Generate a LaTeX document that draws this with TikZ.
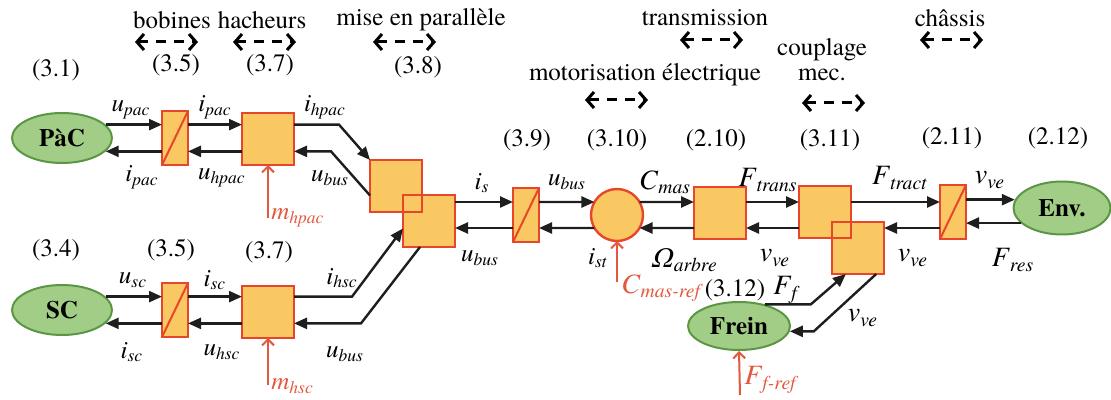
\documentclass[tikz,border=0pt]{standalone}
\usepackage{fontspec}
\setmainfont{texgyretermes}[Extension=.otf,UprightFont=*-regular,BoldFont=*-bold,
  ItalicFont=*-italic,BoldItalicFont=*-bolditalic]
\usetikzlibrary{calc,arrows.meta,positioning,shapes.geometric}
\definecolor{blkfill}{HTML}{FAC862}
\definecolor{blkline}{HTML}{E8462B}
\definecolor{srcfill}{HTML}{A2CD86}
\definecolor{srcline}{HTML}{5A9644}
\definecolor{refc}{HTML}{E2583E}
\definecolor{sigc}{HTML}{1E1E1E}
\newcommand{\sv}[2]{\textit{#1}\textsubscript{\textit{#2}}}
\tikzset{
  blk/.style={draw=blkline,line width=1.2pt,fill=blkfill,minimum size=26pt,inner sep=0pt,outer sep=0pt},
  conv/.style={blk,minimum size=0pt,minimum width=13pt,minimum height=27pt,
    path picture={\draw[blkline,line width=1pt] (path picture bounding box.south west) -- (path picture bounding box.north east);}},
  src/.style={ellipse,draw=srcline,line width=1pt,fill=srcfill,minimum width=50pt,minimum height=25pt,
    inner sep=0pt,font=\bfseries\fontsize{12.5}{14}\selectfont},
  sig/.style={-{Triangle[length=6.5pt,width=5.5pt]},line width=1.2pt,sigc},
  refar/.style={-{Straight Barb[length=3pt,width=6pt]},line width=1pt,refc},
  lab/.style={font=\fontsize{12.5}{14}\selectfont,inner sep=0pt},
  biglab/.style={font=\fontsize{14}{16}\selectfont,inner sep=0pt},
  eqn/.style={font=\fontsize{12.5}{14}\selectfont,inner sep=0pt},
  hdr/.style={font=\fontsize{12.5}{12.5}\selectfont,inner sep=0pt,align=center},
  spanar/.style={{Straight Barb[length=3.5pt,width=8pt]}-{Straight Barb[length=3.5pt,width=8pt]},
    line width=1.5pt,dash pattern=on 5pt off 4pt}
}

\begin{document}
\begin{tikzpicture}[x=0.5pt,y=-0.5pt]
\useasboundingbox (0,0) rectangle (1111,400);
% headings
\node[hdr] (hbob) at (172,20) {bobines};
\node[hdr] (hhach) at (262,20) {hacheurs};
\node[hdr] (hpar) at (421,20) {mise en parallèle};
\node[hdr] (htrans) at (705,18) {transmission};
\node[hdr] (hmot) at (645,75) {motorisation électrique};
\node[hdr] (hcoup) at (822,60) {couplage\\mec.};
\node[hdr] (hchas) at (950,18) {châssis};
\foreach \xa/\ya in {135/42,233/42,373/42,680/40,585/100,802/103,920/40}
  {\draw[spanar] (\xa,\ya) -- ++(63,0);}
\foreach \x/\y/\t [count=\i] in {56/70/(3.1),176/65/(3.5),270/65/(3.7),418/67/(3.8),
  527/140/(3.9),617/140/(3.10),716/140/(2.10),830/140/(3.11),952/138/(2.11),1058/138/(2.12),
  56/250/(3.4),171/250/(3.5),269/252/(3.7),735/290/(3.12)}
  {\node[eqn] (eq\i) at (\x,\y) {\t};}

% sources
\node[src] (pac) at (62,138) {PàC};
\node[src] (sc) at (62,310) {SC};
\node[src,minimum width=48.5pt,minimum height=26.5pt] (env) at (1062,208) {Env.};
\node[src,minimum width=51pt,minimum height=24pt] (frein) at (739,326) {Frein};

% blocks
\node[conv] (cv1) at (175,138) {};
\node[blk] (hv1) at (268,139) {};
\node[conv] (cv2) at (175,310) {};
\node[blk] (hv2) at (268,312) {};
\node[blk] (par1) at (396,186) {};
\node[blk] (par2) at (429,221) {};
\draw[blkline,line width=1.2pt] (par1.south west) rectangle (par1.north east);
\node[conv] (cv3) at (526,215) {};
\node[blk,circle] (mot) at (617,215) {};
\node[blk] (tr) at (720,213) {};
\node[blk] (cp1) at (825,212) {};
\node[blk] (cp2) at (858,248) {};
\draw[blkline,line width=1.2pt] (cp1.south west) rectangle (cp1.north east);
\node[conv] (cv4) at (953,212) {};
\coordinate (ru) at (0,202);
\coordinate (rd) at (0,228);

% PaC branch
\draw[sig] (pac.17) -- (pac.17 -| cv1.west);
\draw[sig] (pac.-17 -| cv1.west) -- (pac.-17);
\draw[sig] (pac.17 -| cv1.east) -- (pac.17 -| hv1.west);
\draw[sig] (pac.-17 -| hv1.west) -- (pac.-17 -| cv1.east);
\draw[sig] (pac.17 -| hv1.east) -- ++(45,0) -- (par1.north west);
\draw[sig] (par1.200) -- ($(pac.-17 -| hv1.east)+(37,0)$) -- (pac.-17 -| hv1.east);
% SC branch
\draw[sig] (sc.17) -- (sc.17 -| cv2.west);
\draw[sig] (sc.-17 -| cv2.west) -- (sc.-17);
\draw[sig] (sc.17 -| cv2.east) -- (sc.17 -| hv2.west);
\draw[sig] (sc.-17 -| hv2.west) -- (sc.-17 -| cv2.east);
\draw[sig] (sc.17 -| hv2.east) -- ++(58,0) -- (par2.196);
\draw[sig] ([xshift=-4.5pt]par2.south) -- ($(sc.-17 -| hv2.east)+(67,0)$) -- (sc.-17 -| hv2.east);
% traction chain
\draw[sig] (par2.east |- ru) -- (cv3.west |- ru);
\draw[sig] (cv3.west |- rd) -- (par2.east |- rd);
\draw[sig] (cv3.east |- ru) -- (mot.150);
\draw[sig] (mot.210) -- (cv3.east |- rd);
\draw[sig] (mot.30) -- (tr.west |- ru);
\draw[sig] (tr.west |- rd) -- (mot.-30);
\draw[sig] (tr.east |- ru) -- (cp1.west |- ru);
\draw[sig] (cp1.west |- rd) -- (tr.east |- rd);
\draw[sig] (cp1.east |- ru) -- (cv4.west |- ru);
\draw[sig] (cv4.west |- rd) -- (cp2.east |- rd);
\draw[sig] (cv4.east |- env.170) -- (env.170);
\draw[sig] (env.-160) -- (env.-160 -| cv4.east);
% brake
\draw[sig] (frein.40) -- ++(46,0) -- (cp2.-115);
\draw[sig] (cp2.-55) -- ($(frein.-6)+(24,0)$) -- (frein.-6);

% references
\coordinate (mhpac) at (268,218);
\coordinate (mhsc) at (268,385);
\coordinate (cmref) at (617,282);
\coordinate (ffref) at (740,395);
\draw[refar] (mhpac) -- (hv1.south);
\draw[refar] (mhsc) -- (hv2.south);
\draw[refar] (cmref) -- (mot.south);
\draw[refar] (ffref) -- (frein.south);
\node[lab,refc,anchor=west] (lmhpac) at (271,218) {\sv{m}{hpac}};
\node[lab,refc,anchor=west] (lmhsc) at (271,386) {\sv{m}{hsc}};
\node[biglab,refc,anchor=west] (lcmref) at (621,288) {\sv{C}{mas-ref}};
\node[biglab,refc,anchor=west] (lffref) at (744,380) {\sv{F}{f-ref}};

% signal labels
\node[lab] (lupac) at (131,110) {\sv{u}{pac}};
\node[lab] (lipac) at (215,107) {\sv{i}{pac}};
\node[lab] (lipacb) at (142,177) {\sv{i}{pac}};
\node[lab] (luhpac) at (222,178) {\sv{u}{hpac}};
\node[lab] (lihpac) at (325,107) {\sv{i}{hpac}};
\node[lab] (lubusa) at (330,178) {\sv{u}{bus}};
\node[lab] (lusc) at (133,280) {\sv{u}{sc}};
\node[lab] (lisc) at (215,280) {\sv{i}{sc}};
\node[lab] (liscb) at (132,352) {\sv{i}{sc}};
\node[lab] (luhsc) at (222,352) {\sv{u}{hsc}};
\node[lab] (lihsc) at (342,278) {\sv{i}{hsc}};
\node[lab] (lubusb) at (345,354) {\sv{u}{bus}};
\node[lab] (lis) at (482,183) {\sv{i}{s}};
\node[lab] (lubusc) at (567,182) {\sv{u}{bus}};
\node[lab] (lubusd) at (480,258) {\sv{u}{bus}};
\node[lab] (list) at (598,258) {\sv{i}{st}};
\node[biglab] (lcmas) at (665,182) {\sv{C}{mas}};
\node[biglab] (lomg) at (685,260) {\sv{Ω}{arbre}};
\node[biglab] (lftrans) at (768,180) {\sv{F}{trans}};
\node[biglab] (lvvea) at (775,258) {\sv{v}{ve}};
\node[biglab] (lftract) at (900,178) {\sv{F}{tract}};
\node[biglab] (lvveb) at (913,258) {\sv{v}{ve}};
\node[biglab] (lvvec) at (990,180) {\sv{v}{ve}};
\node[biglab] (lfres) at (1013,260) {\sv{F}{res}};
\node[biglab] (lff) at (787,290) {\sv{F}{f}};
\node[biglab] (lvved) at (863,318) {\sv{v}{ve}};
\end{tikzpicture}
\end{document}
